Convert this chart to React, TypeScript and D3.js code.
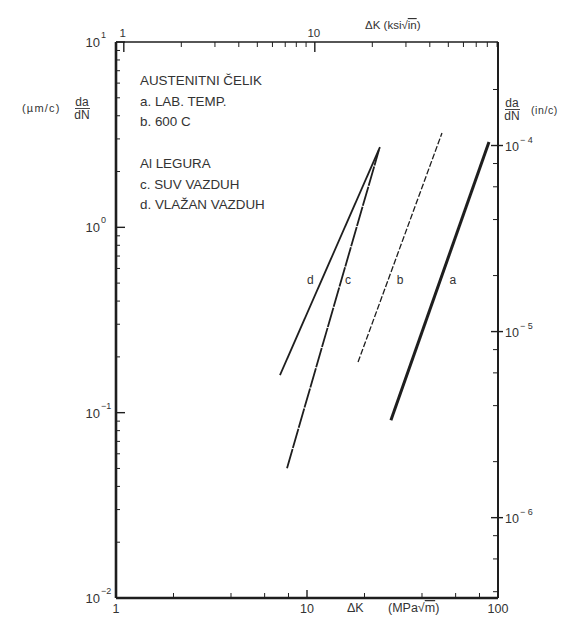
import React from 'react';
import * as d3 from 'd3';

// ---- data ----
const legendLines = ['AUSTENITNI ČELIK', 'a. LAB. TEMP.', 'b. 600 C', '', 'Al LEGURA', 'c. SUV VAZDUH', 'd. VLAŽAN VAZDUH'];
const seriesNames = ['a', 'b', 'c', 'd'];
const dKStart = [27.5, 18.5, 7.86, 7.22];     // MPa√m
const dKEnd = [89.7, 50.9, 23.8, 24.1];
const rateStart = [0.091, 0.1875, 0.0502, 0.1595]; // µm/c
const rateEnd = [2.89, 3.23, 2.61, 2.71];
const labelDK = [58.1, 30.7, 16.4, 10.4];
const labelRate = 0.52;
const leftExps = [1, 0, -1, -2];
const rightExps = [-4, -5, -6];
const bottomMajor = [1, 10, 100];
const bottomMinor = [2, 4, 6, 8, 20, 40, 60, 80];
const topMajor = [1, 10];
const topMinor = [2, 3, 4, 5, 6, 7, 8, 9, 20, 30, 40, 50, 60, 70, 80, 90];
const KSI_TO_MPA = 1.0988;
const rightDomain = [3.7e-7, 3.6e-4]; // in/c at bottom / top of frame

const L = 116, R = 498, T = 42, B = 598;
const FONT = '"Liberation Sans", Arial, sans-serif';
const INK = '#1e1e1e';
const TXT = '#333';

export default function App() {
  const x = d3.scaleLog().domain([1, 100]).range([L, R]);
  const y = d3.scaleLog().domain([0.01, 10]).range([B, T]);
  const yR = d3.scaleLog().domain(rightDomain).range([B, T]);
  const xTop = (ksi: number) => x(ksi * KSI_TO_MPA);
  const line = d3.line<[number, number]>().x(d => x(d[0])).y(d => y(d[1]));

  const leftMinor: number[] = [];
  for (let e = -2; e < 1; e++) for (let m = 2; m <= 9; m++) leftMinor.push(m * Math.pow(10, e));
  const rightMinor: number[] = [];
  for (let e = -7; e < -3; e++) for (const m of [2, 4, 6, 8]) {
    const v = m * Math.pow(10, e);
    if (v >= rightDomain[0] && v <= rightDomain[1]) rightMinor.push(v);
  }

  const styles = [
    { w: 3, dash: undefined },
    { w: 1.3, dash: '6,2' },
    { w: 1.8, dash: '20,1' },
    { w: 1.8, dash: undefined },
  ];

  return (
    <svg width={588} height={620} style={{ position: 'absolute', left: 0, top: 0, background: '#fff' }}
      fontFamily={FONT}>
      {/* frame */}
      <line x1={L} y1={T} x2={R} y2={T} stroke={INK} strokeWidth={1.6} />
      <line x1={R} y1={T} x2={R} y2={B} stroke={INK} strokeWidth={2} />
      <line x1={L} y1={T} x2={L} y2={B} stroke={INK} strokeWidth={2.6} />
      <line x1={L} y1={B} x2={R} y2={B} stroke={INK} strokeWidth={2.6} />

      {/* left ticks */}
      {leftExps.map(e => (
        <line key={'lm' + e} x1={L} x2={L + 9} y1={y(Math.pow(10, e))} y2={y(Math.pow(10, e))} stroke={INK} strokeWidth={1.4} />
      ))}
      {leftMinor.map((v, i) => (
        <line key={'ln' + i} x1={L} x2={L + 4} y1={y(v)} y2={y(v)} stroke={INK} strokeWidth={1} />
      ))}
      {leftExps.map(e => (
        <text key={'lt' + e} x={100} y={y(Math.pow(10, e)) + 5} textAnchor="end" fontSize={13} fill={TXT}>10</text>
      ))}
      {leftExps.map(e => (
        <text key={'le' + e} x={101} y={y(Math.pow(10, e)) - 4} fontSize={9} fill={TXT}>{e < 0 ? '−' + (-e) : String(e)}</text>
      ))}

      {/* right ticks */}
      {rightExps.map(e => (
        <line key={'rm' + e} x1={R - 7} x2={R + 5} y1={yR(Math.pow(10, e))} y2={yR(Math.pow(10, e))} stroke={INK} strokeWidth={1.4} />
      ))}
      {rightMinor.map((v, i) => (
        <line key={'rn' + i} x1={R - 5} x2={R} y1={yR(v)} y2={yR(v)} stroke={INK} strokeWidth={1} />
      ))}
      {rightExps.map(e => (
        <text key={'rt' + e} x={505} y={yR(Math.pow(10, e)) + 5} fontSize={12.5} fill={TXT}>10</text>
      ))}
      {rightExps.map(e => (
        <text key={'re' + e} x={520} y={yR(Math.pow(10, e)) - 3} fontSize={9} fill={TXT}>{'− ' + (-e)}</text>
      ))}

      {/* bottom ticks */}
      {bottomMajor.map(v => (
        <line key={'bm' + v} x1={x(v)} x2={x(v)} y1={B} y2={B - 8} stroke={INK} strokeWidth={1.4} />
      ))}
      {bottomMinor.map(v => (
        <line key={'bn' + v} x1={x(v)} x2={x(v)} y1={B} y2={B - 5} stroke={INK} strokeWidth={1} />
      ))}
      {bottomMajor.map(v => (
        <text key={'bt' + v} x={x(v)} y={613} textAnchor="middle" fontSize={12.5} fill={TXT}>{v}</text>
      ))}
      <text x={347} y={612} fontSize={12.5} fill={TXT}>ΔK</text>
      <text x={388} y={612} fontSize={12.5} fill={TXT}>(MPa√<tspan textDecoration="overline">m</tspan>)</text>

      {/* top ticks */}
      {topMajor.map(v => (
        <line key={'tm' + v} x1={xTop(v)} x2={xTop(v)} y1={T} y2={T + 10} stroke={INK} strokeWidth={1.4} />
      ))}
      {topMinor.map(v => (
        <line key={'tn' + v} x1={xTop(v)} x2={xTop(v)} y1={T} y2={T + 5} stroke={INK} strokeWidth={1} />
      ))}
      {topMajor.map(v => (
        <text key={'tt' + v} x={xTop(v) - 1} y={37} textAnchor="middle" fontSize={11.5} fill={TXT}>{v}</text>
      ))}
      <text x={365} y={29} fontSize={11.5} fill={TXT}>ΔK (ksi√<tspan textDecoration="overline">in</tspan>)</text>

      {/* left y label */}
      <text x={22} y={112} fontSize={11} letterSpacing={1.2} fill={TXT}>(µm/c)</text>
      <text x={82} y={106} textAnchor="middle" fontSize={12} fill={TXT}>da</text>
      <line x1={75} x2={90} y1={108.5} y2={108.5} stroke={TXT} strokeWidth={0.9} />
      <text x={82} y={119} textAnchor="middle" fontSize={12} fill={TXT}>dN</text>

      {/* right y label */}
      <text x={512} y={107} textAnchor="middle" fontSize={12} fill={TXT}>da</text>
      <line x1={505} x2={520} y1={109.5} y2={109.5} stroke={TXT} strokeWidth={0.9} />
      <text x={512} y={120} textAnchor="middle" fontSize={12} fill={TXT}>dN</text>
      <text x={531} y={114} fontSize={10.5} letterSpacing={0.6} fill={TXT}>(in/c)</text>

      {/* legend text */}
      {legendLines.map((s, i) => (
        <text key={'lg' + i} x={140} y={85 + i * 20.7} fontSize={13.4} fill={TXT}>{s}</text>
      ))}

      {/* series lines */}
      {seriesNames.map((n, i) => (
        <path key={'s' + n}
          d={line([[dKStart[i], rateStart[i]], [dKEnd[i], rateEnd[i]]]) || ''}
          fill="none" stroke={INK} strokeWidth={styles[i].w} strokeDasharray={styles[i].dash} />
      ))}
      {seriesNames.map((n, i) => (
        <text key={'sl' + n} x={x(labelDK[i])} y={y(labelRate) + 4} textAnchor="middle" fontSize={12} fill={TXT}>{n}</text>
      ))}
    </svg>
  );
}
